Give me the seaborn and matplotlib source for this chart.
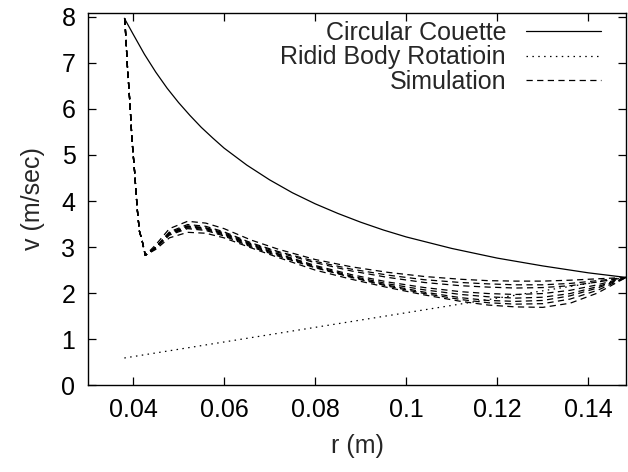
import numpy as np
import pandas as pd
import matplotlib
matplotlib.use("Agg")
import matplotlib.pyplot as plt
import seaborn as sns
from matplotlib.lines import Line2D

sns.set_style("ticks")
plt.rcParams['font.family'] = ['Liberation Sans', 'DejaVu Sans']

# Circular Couette (solid)
couette_r = [0.0381, 0.040, 0.0425, 0.045, 0.0475, 0.050, 0.0525, 0.055, 0.0575, 0.060, 0.065,
             0.070, 0.075, 0.080, 0.085, 0.090, 0.095, 0.100, 0.110, 0.120, 0.130, 0.140, 0.1483]
couette_v = [7.97, 7.63, 7.19, 6.80, 6.45, 6.14, 5.86, 5.60, 5.37, 5.15, 4.78,
             4.46, 4.18, 3.94, 3.73, 3.54, 3.37, 3.22, 2.97, 2.76, 2.59, 2.44, 2.34]

# Rigid body rotation (dotted)
rigid_r = [0.0381, 0.1483]
rigid_v = [0.59, 2.34]

# Simulation (dashed), several runs sharing the same radial grid
sim_r = [0.0382, 0.0388, 0.0393, 0.0398, 0.0404, 0.0409, 0.0414, 0.0420, 0.0427,
         0.045, 0.048, 0.052, 0.056, 0.060, 0.066, 0.072, 0.080, 0.088, 0.096,
         0.104, 0.112, 0.118, 0.124, 0.130, 0.136, 0.142, 0.1483]
sim_head = [7.96, 6.88, 6.16, 5.30, 4.58, 3.86, 3.35, 3.14, 2.82]
sim_a = sim_head + [3.05, 3.40, 3.56, 3.52, 3.40, 3.15, 2.95, 2.73, 2.57, 2.45, 2.36, 2.30, 2.27, 2.26, 2.26, 2.28, 2.31, 2.34]
sim_b = sim_head + [3.00, 3.33, 3.49, 3.45, 3.33, 3.09, 2.90, 2.69, 2.52, 2.39, 2.29, 2.23, 2.20, 2.18, 2.18, 2.21, 2.27, 2.34]
sim_c = sim_head + [3.00, 3.31, 3.46, 3.42, 3.31, 3.07, 2.88, 2.66, 2.48, 2.34, 2.23, 2.16, 2.13, 2.11, 2.12, 2.16, 2.24, 2.34]
sim_d = sim_head + [3.00, 3.30, 3.45, 3.41, 3.29, 3.05, 2.85, 2.60, 2.40, 2.24, 2.12, 2.03, 1.99, 1.97, 1.99, 2.06, 2.18, 2.34]
sim_e = sim_head + [2.99, 3.29, 3.44, 3.40, 3.28, 3.04, 2.84, 2.58, 2.37, 2.20, 2.07, 1.97, 1.92, 1.89, 1.91, 1.99, 2.14, 2.34]
sim_f = sim_head + [2.98, 3.28, 3.42, 3.38, 3.26, 3.02, 2.82, 2.56, 2.35, 2.17, 2.02, 1.90, 1.84, 1.82, 1.84, 1.94, 2.11, 2.34]
sim_g = sim_head + [2.97, 3.26, 3.40, 3.36, 3.24, 3.00, 2.80, 2.55, 2.34, 2.15, 1.99, 1.86, 1.79, 1.76, 1.77, 1.87, 2.06, 2.34]
sim_h = sim_head + [2.95, 3.20, 3.32, 3.30, 3.20, 2.98, 2.77, 2.50, 2.30, 2.12, 1.96, 1.82, 1.74, 1.70, 1.69, 1.78, 2.00, 2.34]
sim_runs = [sim_a, sim_b, sim_c, sim_d, sim_e, sim_f, sim_g, sim_h]

xticks = [0.04, 0.06, 0.08, 0.10, 0.12, 0.14]
xtick_labels = ["0.04", "0.06", "0.08", "0.1", "0.12", "0.14"]
yticks = [0, 1, 2, 3, 4, 5, 6, 7, 8]

FS = 18

fig = plt.figure(figsize=(6.28, 4.72), dpi=100)
ax = fig.add_axes([0.140, 0.184, 0.857, 0.789])

lw = 0.9
sns.lineplot(x=couette_r, y=couette_v, ax=ax, color='black', lw=lw, estimator=None, sort=False)
sns.lineplot(x=rigid_r, y=rigid_v, ax=ax, color='black', lw=lw, estimator=None, sort=False,
             dashes=False).lines[-1].set_dashes([1.2, 3.5])
sim_df = pd.DataFrame({
    'r': np.tile(sim_r, len(sim_runs)),
    'v': np.concatenate(sim_runs),
    'run': np.repeat(np.arange(len(sim_runs)), len(sim_r)),
})
n_before = len(ax.lines)
sns.lineplot(data=sim_df, x='r', y='v', units='run', estimator=None, ax=ax,
             color='black', lw=lw, sort=False)
for ln in ax.lines[n_before:]:
    ln.set_dashes([5, 3.5])

ax.set_xlim(0.0301, 0.1483)
ax.set_ylim(0, 8.09)
ax.set_xticks(xticks)
ax.set_xticklabels(xtick_labels)
ax.set_yticks(yticks)
ax.tick_params(direction='in', length=6, width=0.9, top=True, right=True,
               labelsize=FS, pad=9, colors='black')
for s in ax.spines.values():
    s.set_linewidth(1.0)
    s.set_color('black')
    s.set_visible(True)
ax.set_xlabel("r (m)", fontsize=FS, labelpad=9)
ax.set_ylabel("v (m/sec)", fontsize=FS, labelpad=12)

handles = [Line2D([], [], color='black', lw=lw),
           Line2D([], [], color='black', lw=lw, dashes=[1.2, 3.5]),
           Line2D([], [], color='black', lw=lw, dashes=[5, 3.5])]
labels = ["Circular Couette", "Ridid Body Rotatioin", "Simulation"]
ax.legend(handles, labels, loc='upper right', frameon=False, markerfirst=False,
          alignment='right', fontsize=FS, handlelength=3.0, handletextpad=0.8,
          labelspacing=0.02, borderaxespad=0.0, bbox_to_anchor=(0.972, 1.005))

fig.savefig("out.png", dpi=100)
